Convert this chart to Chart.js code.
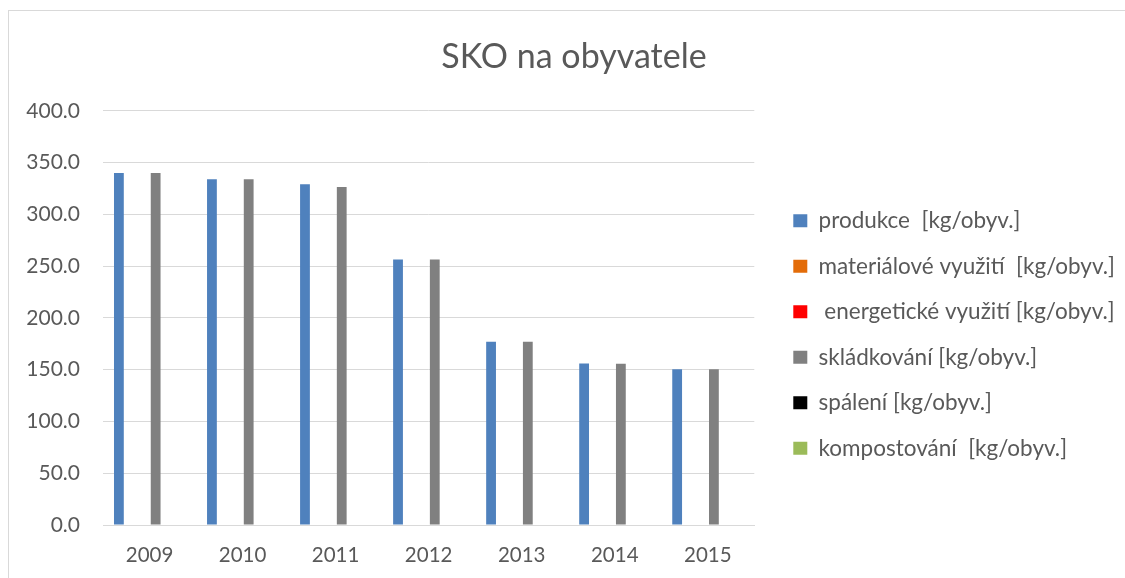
<!DOCTYPE html>
<html>
<head>
<meta charset="utf-8">
<script src="https://cdn.jsdelivr.net/npm/chart.js@4/dist/chart.umd.min.js"></script>
<style>
    body { margin: 0; background: #fff; overflow: hidden; }
    #frame {
        position: absolute; left: 8px; top: 10px;
        width: 1116px; height: 567px;
        border-left: 1px solid #d9d9d9; border-top: 1px solid #d9d9d9;
    }
</style>
</head>
<body>
<div id="frame"><canvas id="sko-chart"></canvas></div>
<script>
// Données
const roky = ['2009', '2010', '2011', '2012', '2013', '2014', '2015'];
const produkce = [340, 334, 329, 256.5, 177, 156, 150.5];
const materialove = [0, 0, 0, 0, 0, 0, 0];
const energeticke = [0, 0, 0, 0, 0, 0, 0];
const skladkovani = [340, 334, 326.5, 256.5, 177, 155.7, 150.5];
const spaleni = [0, 0, 0, 0, 0, 0, 0];
const kompostovani = [0, 0, 0, 0, 0, 0, 0];
const osaY = [0, 50, 100, 150, 200, 250, 300, 350, 400];

const textColor = '#595959';
const gridColor = '#d9d9d9';
const pismo = 'Lato';

function serie(label, data, color) {
    return {
        label: label,
        data: data,
        backgroundColor: color,
        borderWidth: 0,
        categoryPercentage: 0.79,
        barPercentage: 0.8
    };
}

const ctx = document.getElementById('sko-chart').getContext('2d');
new Chart(ctx, {
    type: 'bar',
    data: {
        labels: roky,
        datasets: [
            serie('produkce  [kg/obyv.]', produkce, '#4f81bd'),
            serie('materiálové využití  [kg/obyv.]', materialove, '#e36c09'),
            serie(' energetické využití [kg/obyv.]', energeticke, '#ff0000'),
            serie('skládkování [kg/obyv.]', skladkovani, '#808080'),
            serie('spálení [kg/obyv.]', spaleni, '#000000'),
            serie('kompostování  [kg/obyv.]', kompostovani, '#9bbb59')
        ]
    },
    options: {
        responsive: true,
        maintainAspectRatio: false,
        animation: false,
        layout: { padding: { left: 14, right: 0, top: 0, bottom: 0 } },
        scales: {
            x: {
                grid: { display: false, drawTicks: false },
                border: { color: gridColor, width: 1 },
                ticks: { color: textColor, font: { family: pismo, size: 20.5 }, padding: 17.7 },
                afterFit: function(axis) { axis.height = 53; }
            },
            y: {
                min: 0,
                max: 400,
                afterBuildTicks: function(axis) {
                    axis.ticks = osaY.map(function(v) { return { value: v }; });
                },
                grid: { color: gridColor, lineWidth: 1, drawTicks: false },
                border: { display: false },
                ticks: {
                    color: textColor,
                    font: { family: pismo, size: 21 },
                    padding: 23,
                    callback: function(v) { return Number(v).toFixed(1); }
                },
                afterFit: function(axis) { axis.width = 80; }
            },
            // espace vide entre le graphique et la légende
            mezera: {
                type: 'linear',
                position: 'right',
                grid: { display: false },
                border: { display: false },
                ticks: { display: false },
                afterFit: function(axis) { axis.width = 16; }
            }
        },
        plugins: {
            title: {
                display: true,
                text: 'SKO na obyvatele',
                color: textColor,
                font: { family: pismo, size: 34, weight: 'normal' },
                padding: { top: 26, bottom: 33 }
            },
            legend: {
                position: 'right',
                maxWidth: 420,
                // titre vide : sert seulement à descendre les éléments
                title: { display: true, text: '', font: { size: 10 }, padding: { top: 34, bottom: 34 } },
                labels: {
                    color: textColor,
                    font: { family: pismo, size: 22.5 },
                    boxWidth: 14,
                    boxHeight: 13,
                    padding: 23
                }
            },
            tooltip: { enabled: false }
        }
    }
});
</script>
</body>
</html>
